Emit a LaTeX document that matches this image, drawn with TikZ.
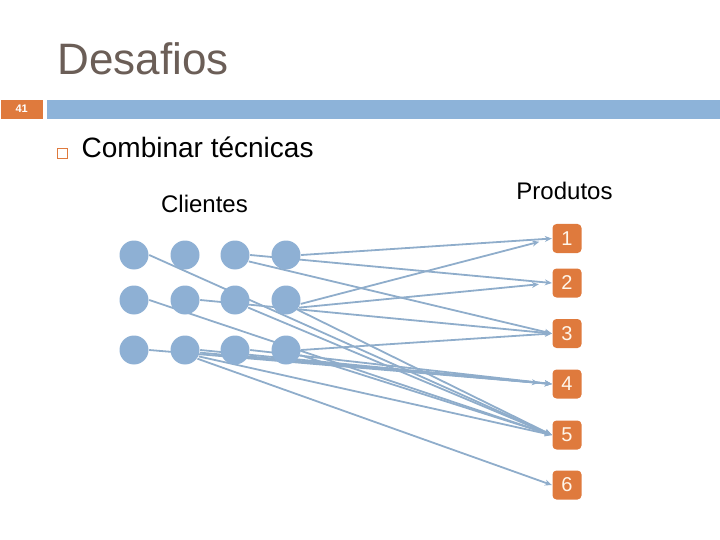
\documentclass[tikz,border=0pt]{standalone}
\usepackage{fontspec}
\setmainfont{Liberation Sans}
\usetikzlibrary{arrows.meta, positioning, backgrounds}
\definecolor{cbar}{HTML}{8DB3D9}
\definecolor{corange}{HTML}{DF7A3D}
\definecolor{cdot}{HTML}{8EB0D4}
\definecolor{cline}{HTML}{8FADCB}
\definecolor{ctitle}{HTML}{6B5E57}
\definecolor{cdigit}{HTML}{FFF6EA}
\tikzset{
  every picture/.style={line width=1.4pt},
  client/.style={circle, fill=cdot, minimum size=29pt, inner sep=0pt},
  prod/.style={fill=corange, rounded corners=4pt, minimum width=29pt, minimum height=29pt, inner sep=0pt, text=cdigit, font=\fontsize{20}{20}\selectfont},
  link/.style={-{Stealth[length=7pt, width=6pt]}, draw=cline, line width=1.8pt},
  stopshort/.style={shorten >=13pt},
  heading/.style={font=\fontsize{24}{24}\selectfont, anchor=base, inner sep=0pt},
}

\begin{document}
\begin{tikzpicture}[x=1pt, y=-1pt]
  \useasboundingbox (0,0) rectangle (720,540);
  % slide title and top bar
  \node[text=ctitle, font=\fontsize{44}{44}\selectfont, anchor=base west, inner sep=0pt] (title) at (57,75) {Desafios};
  \node[fill=corange, minimum width=42pt, minimum height=19pt, inner sep=0pt, anchor=north west, text=white, font=\bfseries\fontsize{11}{11}\selectfont] (num) at (0,99) {41};
  \node[fill=cbar, minimum width=674pt, minimum height=19pt, inner sep=0pt, anchor=north west] (bar) at (46,99) {};
  % bullet
  \node[draw=corange, line width=0.9pt, minimum size=10pt, inner sep=0pt] (bul) at (62,153) {};
  \node[font=\fontsize{28}{28}\selectfont, anchor=base west, inner sep=0pt] (item) at (81,158) {Combinar técnicas};
  \node[heading] (cli) at (204.5,212) {Clientes};
  \node[heading] (pro) at (564.5,200) {Produtos};
  % clients grid
  \foreach \c/\x in {1/134, 2/185, 3/235, 4/286}
    \foreach \r/\y in {1/255, 2/300, 3/350}
      \node[client] (c\c\r) at (\x,\y) {};
  % products
  \foreach \i/\y in {1/238.5, 2/283, 3/333.5, 4/384, 5/435, 6/485}
    \node[prod] (p\i) at (567,\y) {\i};
  % links
  \begin{scope}[on background layer]
    \foreach \a/\b in {c41.east/1, c31.east/2, c31.-25/3, c11.east/5, c12.east/5,
        c22.east/3, c43.east/3, c32.-30/5, c42.-40/5, c33.east/4, c23.east/4,
        c33.-25/4, c23.-25/5, c23.-35/6, c43.-20/5, c13.east/4}
      \draw[link] (\a) -- (p\b.west);
    \foreach \a/\b in {c42.-15/1, c42.-30/2, c23.-10/4}
      \draw[link, stopshort] (\a) -- (p\b.west);
  \end{scope}
\end{tikzpicture}
\end{document}
